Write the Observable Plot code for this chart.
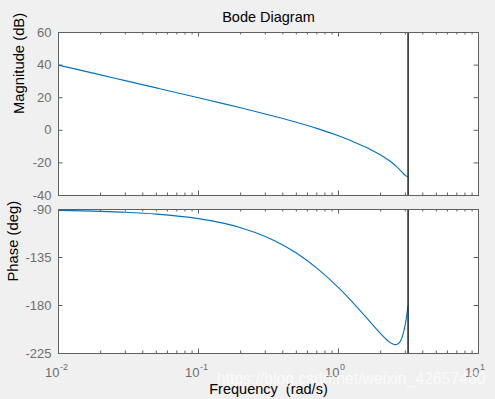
<!DOCTYPE html>
<html>
<head>
<meta charset="utf-8">
<script src="https://cdn.jsdelivr.net/npm/d3@7"></script>
<script src="https://cdn.jsdelivr.net/npm/@observablehq/plot@0.6"></script>
<style>
html, body { margin: 0; padding: 0; background: #f0f0f0; }
#chart { position: relative; width: 495px; height: 399px; background: #f0f0f0; overflow: hidden; }
#chart svg { position: absolute; left: 0; overflow: visible; }
</style>
</head>
<body>
<div id="chart"></div>
<script>
// ---- data ----
const freq = [0.01, 0.02, 0.03, 0.05, 0.1, 0.15, 0.2, 0.3, 0.4, 0.5, 0.7, 1.0, 1.3, 1.6, 1.8, 2.0, 2.3, 2.5, 2.55, 2.6, 2.7, 2.8, 2.9, 3.0, 3.05, 3.1, 3.1416];
const magDb = [40.0, 34.0, 30.46, 26.01, 19.95, 16.38, 13.8, 10.05, 7.26, 4.96, 1.19, -3.4, -7.28, -10.77, -12.98, -15.17, -18.55, -21.0, -21.66, -22.31, -23.68, -25.09, -26.48, -27.67, -28.1, -28.36, -28.43];
const phaseDeg = [-90.86, -91.72, -92.58, -94.3, -98.58, -102.8, -107.03, -115.29, -123.25, -130.84, -144.93, -163.29, -178.84, -192.07, -199.75, -206.44, -214.08, -216.61, -216.7, -216.61, -215.26, -212.09, -206.37, -197.44, -191.77, -185.49, -180.0];
const nyquist = [3.1416];

const magTicks = [-40, -20, 0, 20, 40, 60];
const phaseTicks = [-225, -180, -135, -90];
const decadeTicks = [0.01, 0.1, 1, 10];
const decadeBase = ["10", "10", "10", "10"];
const decadeExp = ["-2", "-1", "0", "1"];
const minorTicks = [0.02, 0.03, 0.04, 0.05, 0.06, 0.07, 0.08, 0.09,
                    0.2, 0.3, 0.4, 0.5, 0.6, 0.7, 0.8, 0.9,
                    2, 3, 4, 5, 6, 7, 8, 9];

const titleText = "Bode Diagram";
const magLabel = "Magnitude (dB)";
const phaseLabel = "Phase (deg)";
const xLabel = "Frequency\u00a0 (rad/s)";
const watermark = "https://blog.csdn.net/weixin_42657460";

// ---- styling ----
const FONT = "'Liberation Sans', Arial, Helvetica, sans-serif";
const frameColor = "#5f5f5f";
const tickColor = "#5f5f5f";
const labelColor = "#6e6e6e";
const lineColor = "#0072BD";
const W = 495, ML = 58, MR = 17;

function panel({rows, yDomain, yTicks, height, marginTop, marginBottom, extra}) {
  const plotW = W - ML - MR;
  const plotH = height - marginTop - marginBottom;
  return Plot.plot({
    width: W, height, marginLeft: ML, marginRight: MR, marginTop, marginBottom,
    x: {type: "log", domain: [0.01, 10], axis: null},
    y: {domain: yDomain, axis: null},
    style: {background: "transparent", overflow: "visible", fontFamily: FONT, fontSize: "13px"},
    marks: [
      Plot.frame({fill: "white", stroke: null}),
      Plot.tickX(minorTicks, {x: d => d, insetTop: plotH - 2.5, stroke: tickColor}),
      Plot.tickX(minorTicks, {x: d => d, insetBottom: plotH - 2.5, stroke: tickColor}),
      Plot.tickX(decadeTicks, {x: d => d, insetTop: plotH - 4.5, stroke: tickColor}),
      Plot.tickX(decadeTicks, {x: d => d, insetBottom: plotH - 4.5, stroke: tickColor}),
      Plot.tickY(yTicks, {y: d => d, insetRight: plotW - 4.5, stroke: tickColor}),
      Plot.tickY(yTicks, {y: d => d, insetLeft: plotW - 4.5, stroke: tickColor}),
      Plot.text(yTicks, {y: d => d, frameAnchor: "left", text: d => String(d), textAnchor: "end", dx: -7, fill: labelColor, fontSize: 13}),
      Plot.line(rows, {x: "f", y: "v", stroke: lineColor, strokeWidth: 1.1, curve: "monotone-x"}),
      Plot.ruleX(nyquist, {x: d => d, stroke: "#2a2a2a", strokeWidth: 1.6}),
      Plot.frame({stroke: frameColor}),
      ...extra
    ]
  });
}

const magRows = freq.map((f, i) => ({f, v: magDb[i]}));
const phaseRows = freq.map((f, i) => ({f, v: phaseDeg[i]}));

const magPanel = panel({
  rows: magRows, yDomain: [-40, 60], yTicks: magTicks,
  height: 205, marginTop: 32, marginBottom: 10,
  extra: [
    Plot.text([titleText], {frameAnchor: "top", text: d => d, lineAnchor: "bottom", dy: -11, fill: "#000", fontSize: 14.5}),
    Plot.text([magLabel], {frameAnchor: "left", text: d => d, rotate: -90, dx: -39, fill: "#000", fontSize: 14.8})
  ]
});

const phasePanel = panel({
  rows: phaseRows, yDomain: [-225, -90], yTicks: phaseTicks,
  height: 194, marginTop: 4, marginBottom: 46,
  extra: [
    Plot.text(decadeTicks, {x: d => d, frameAnchor: "bottom", text: (d, i) => decadeBase[i], textAnchor: "end", lineAnchor: "top", dx: 1, dy: 14, fill: labelColor, fontSize: 13}),
    Plot.text(decadeTicks, {x: d => d, frameAnchor: "bottom", text: (d, i) => decadeExp[i], textAnchor: "start", lineAnchor: "top", dx: 1.5, dy: 10, fill: labelColor, fontSize: 9}),
    Plot.text([phaseLabel], {frameAnchor: "left", text: d => d, rotate: -90, dx: -45.5, fill: "#000", fontSize: 14.8}),
    Plot.text([xLabel], {frameAnchor: "bottom", text: d => d, lineAnchor: "top", dy: 30, fill: "#000", fontSize: 14.5}),
    Plot.text([watermark], {frameAnchor: "bottom-right", text: d => d, textAnchor: "end", lineAnchor: "bottom", dx: 7, dy: 30, fill: "#ffffff", fillOpacity: 0.7, fontSize: 15.8})
  ]
});

const chart = document.getElementById("chart");
magPanel.style.top = "0px";
phasePanel.style.top = "205px";
chart.appendChild(magPanel);
chart.appendChild(phasePanel);
</script>
</body>
</html>
